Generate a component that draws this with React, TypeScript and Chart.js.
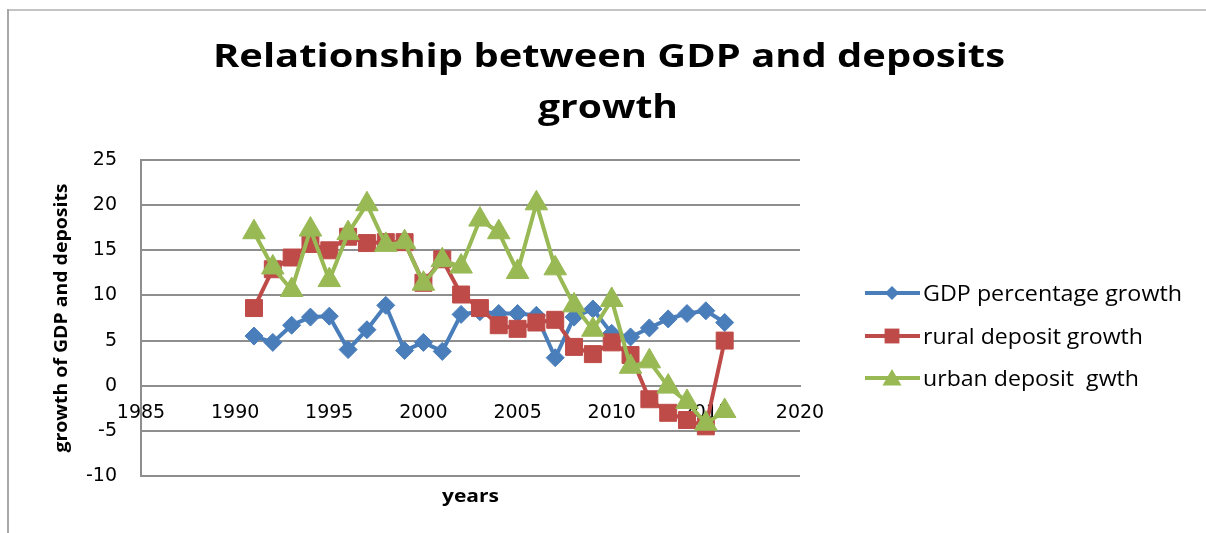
import React, { useEffect, useRef } from "react";
import { Chart, registerables } from "chart.js";

Chart.register(...registerables);

// ---- Data ----
const years = [
  1991, 1992, 1993, 1994, 1995, 1996, 1997, 1998, 1999, 2000, 2001, 2002, 2003,
  2004, 2005, 2006, 2007, 2008, 2009, 2010, 2011, 2012, 2013, 2014, 2015, 2016,
];
const gdpGrowth = [
  5.5, 4.8, 6.7, 7.6, 7.7, 4.0, 6.2, 8.9, 3.9, 4.8, 3.8, 7.9, 8.2,
  8.0, 8.0, 7.8, 3.1, 7.6, 8.5, 5.8, 5.4, 6.4, 7.4, 8.0, 8.3, 7.0,
];
const ruralDepositGrowth = [
  8.6, 12.9, 14.2, 15.7, 15.0, 16.5, 15.8, 15.9, 15.9, 11.4, 14.0, 10.1, 8.6,
  6.7, 6.3, 7.0, 7.3, 4.3, 3.5, 4.8, 3.4, -1.5, -3.0, -3.8, -4.5, 5.0,
];
const urbanDepositGrowth = [
  17.0, 13.1, 10.6, 17.3, 11.7, 16.9, 20.1, 15.6, 15.9, 11.3, 13.9, 13.2, 18.4,
  17.0, 12.6, 20.2, 13.0, 8.9, 6.2, 9.5, 2.1, 2.7, -0.1, -1.8, -4.2, -2.8,
];
const seriesLabels = ["GDP percentage growth", "rural deposit growth", "urban deposit  gwth"];
const xTickValues = [1985, 1990, 1995, 2000, 2005, 2010, 2015, 2020];
const yTickValues = [-10, -5, 0, 5, 10, 15, 20, 25];
const titleLines = ["Relationship between GDP and deposits", "growth"];
const yAxisTitle = "growth of GDP and deposits";
const xAxisTitle = "years";

const COLORS = ["#4A7EBB", "#BE4B48", "#98B954"];
const GRID = "#8e8e8e";

function fitText(
  ctx: CanvasRenderingContext2D,
  text: string,
  x: number,
  y: number,
  font: string,
  width: number,
  align: CanvasTextAlign = "center",
  rotate = 0
) {
  ctx.save();
  ctx.font = font;
  const w = ctx.measureText(text).width || 1;
  ctx.translate(x, y);
  if (rotate) ctx.rotate(rotate);
  ctx.scale(width / w, 1);
  ctx.textAlign = align;
  ctx.fillStyle = "#000";
  ctx.fillText(text, 0, 0);
  ctx.restore();
}

function drawMarker(ctx: CanvasRenderingContext2D, style: string, x: number, y: number, r: number, color: string) {
  ctx.save();
  ctx.fillStyle = color;
  ctx.strokeStyle = color;
  ctx.beginPath();
  if (style === "rectRot") {
    ctx.moveTo(x, y - r);
    ctx.lineTo(x + r, y);
    ctx.lineTo(x, y + r);
    ctx.lineTo(x - r, y);
  } else if (style === "rect") {
    const s = r * Math.SQRT1_2;
    ctx.rect(x - s, y - s, 2 * s, 2 * s);
  } else {
    for (let k = 0; k < 3; k++) {
      const a = (k * 2 * Math.PI) / 3;
      const px = x + Math.sin(a) * r;
      const py = y - Math.cos(a) * r;
      if (k === 0) ctx.moveTo(px, py);
      else ctx.lineTo(px, py);
    }
  }
  ctx.closePath();
  ctx.fill();
  ctx.restore();
}

const decorPlugin = {
  id: "decor",
  beforeDraw(chart: any) {
    const ctx = chart.ctx as CanvasRenderingContext2D;
    ctx.save();
    ctx.fillStyle = "#ffffff";
    ctx.fillRect(0, 0, chart.width, chart.height);
    ctx.lineWidth = 2;
    ctx.strokeStyle = "#c4c4c4";
    ctx.beginPath();
    ctx.moveTo(8, 10);
    ctx.lineTo(chart.width, 10);
    ctx.stroke();
    ctx.strokeStyle = "#a8a8a8";
    ctx.beginPath();
    ctx.moveTo(8, 9);
    ctx.lineTo(8, chart.height);
    ctx.stroke();
    ctx.restore();
  },
  afterDraw(chart: any) {
    const ctx = chart.ctx as CanvasRenderingContext2D;
    const area = chart.chartArea;
    // Title
    fitText(ctx, titleLines[0], 609, 67, "bold 32px 'Open Sans'", 792);
    fitText(ctx, titleLines[1], 608, 118, "bold 32px 'Open Sans'", 140);
    // Axis titles
    fitText(ctx, yAxisTitle, 67, (area.top + area.bottom) / 2, "bold 17px 'Open Sans'", 269, "center", -Math.PI / 2);
    fitText(ctx, xAxisTitle, (area.left + area.right) / 2, area.bottom + 26, "bold 18px 'Open Sans'", 57);
    // Legend
    const rowsY = [293, 336, 378];
    const radii = [7, 10.5, 11];
    const widths = [259, 220, 216];
    chart.data.datasets.forEach((ds: any, i: number) => {
      const y = rowsY[i];
      ctx.save();
      ctx.strokeStyle = COLORS[i];
      ctx.lineWidth = 4;
      ctx.lineCap = "butt";
      ctx.beginPath();
      ctx.moveTo(865, y);
      ctx.lineTo(920, y);
      ctx.stroke();
      ctx.restore();
      drawMarker(ctx, ds.pointStyle, 892, i === 2 ? y + 2 : y, radii[i], COLORS[i]);
      fitText(ctx, ds.label, 923, y + 8, "21px 'Open Sans'", widths[i], "left");
    });
  },
};

export default function App() {
  const canvasRef = useRef<HTMLCanvasElement | null>(null);

  useEffect(() => {
    if (!canvasRef.current) return;
    const mk = (vals: number[]) => years.map((x, i) => ({ x, y: vals[i] }));
    const chart = new Chart(canvasRef.current, {
      type: "line",
      data: {
        datasets: [
          {
            label: seriesLabels[0],
            data: mk(gdpGrowth),
            borderColor: COLORS[0],
            backgroundColor: COLORS[0],
            pointBackgroundColor: COLORS[0],
            pointBorderColor: COLORS[0],
            borderWidth: 4,
            pointStyle: "rectRot",
            pointRadius: 9,
            pointBorderWidth: 1,
            tension: 0,
            order: 3,
          },
          {
            label: seriesLabels[1],
            data: mk(ruralDepositGrowth),
            borderColor: COLORS[1],
            backgroundColor: COLORS[1],
            pointBackgroundColor: COLORS[1],
            pointBorderColor: COLORS[1],
            borderWidth: 4,
            pointStyle: "rect",
            pointRadius: 12,
            pointBorderWidth: 1,
            tension: 0,
            order: 2,
          },
          {
            label: seriesLabels[2],
            data: mk(urbanDepositGrowth),
            borderColor: COLORS[2],
            backgroundColor: COLORS[2],
            pointBackgroundColor: COLORS[2],
            pointBorderColor: COLORS[2],
            borderWidth: 4,
            pointStyle: "triangle",
            pointRadius: 13,
            pointBorderWidth: 1,
            tension: 0,
            order: 1,
          },
        ],
      },
      options: {
        responsive: false,
        animation: false,
        events: [],
        layout: { padding: { top: 160, right: 406, bottom: 57, left: 0 } },
        plugins: {
          legend: { display: false },
          title: { display: false },
          tooltip: { enabled: false },
        },
        scales: {
          x: {
            type: "linear",
            position: { y: 0 } as any,
            min: xTickValues[0],
            max: xTickValues[xTickValues.length - 1],
            afterBuildTicks: (s: any) => {
              s.ticks = xTickValues.map((v) => ({ value: v }));
            },
            ticks: {
              callback: (v: any) => String(v),
              font: { family: "DejaVu Sans", size: 19 },
              color: "#000",
              padding: 16,
              maxRotation: 0,
              autoSkip: false,
            },
            grid: { display: false, drawTicks: false },
            border: { display: true, color: GRID, width: 2 },
          },
          y: {
            type: "linear",
            min: yTickValues[0],
            max: yTickValues[yTickValues.length - 1],
            afterBuildTicks: (s: any) => {
              s.ticks = yTickValues.map((v) => ({ value: v }));
            },
            afterFit: (s: any) => {
              s.width = 141;
            },
            ticks: {
              callback: (v: any) => String(v),
              font: { family: "DejaVu Sans", size: 19 },
              color: "#000",
              padding: 24,
            },
            grid: { color: GRID, lineWidth: 2, drawTicks: false },
            border: { display: true, color: GRID, width: 2 },
          },
        },
      },
      plugins: [decorPlugin],
    });
    return () => chart.destroy();
  }, []);

  return (
    <div style={{ position: "absolute", left: 0, top: 0, width: 1206, height: 533 }}>
      <canvas ref={canvasRef} width={1206} height={533} style={{ display: "block" }} />
    </div>
  );
}
